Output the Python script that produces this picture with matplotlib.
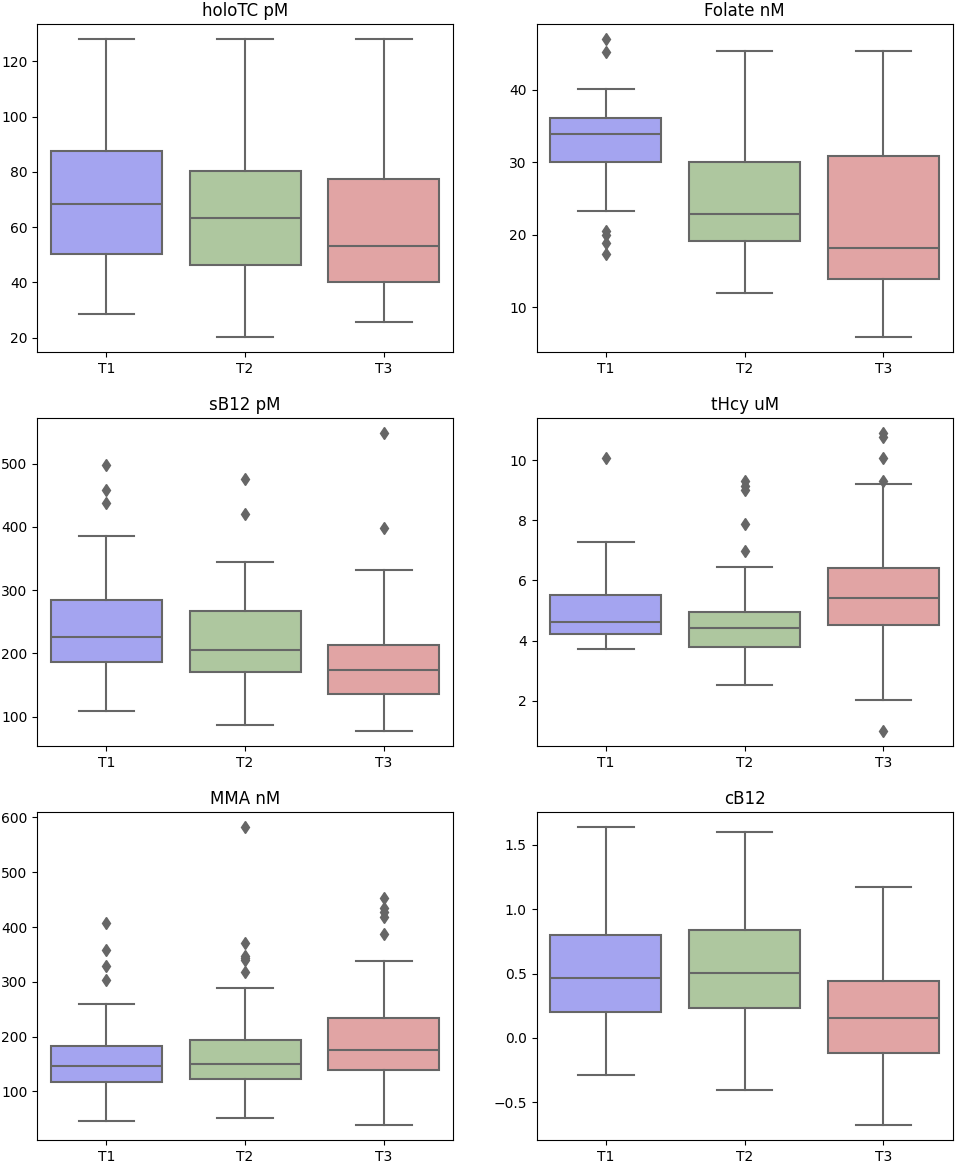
import matplotlib
matplotlib.use('Agg')
import matplotlib.pyplot as plt

# Group labels and panel titles
groups = ['T1', 'T2', 'T3']
titles = ['holoTC pM', 'Folate nM', 'sB12 pM', 'tHcy uM', 'MMA nM', 'cB12']

# Box statistics: [T1, T2, T3] per panel
holotc_whislo = [28.6, 20.2, 25.7]
holotc_q1 = [50.3, 46.4, 40.1]
holotc_med = [68.2, 63.3, 53.3]
holotc_q3 = [87.5, 80.4, 77.4]
holotc_whishi = [128.0, 128.0, 128.0]
holotc_fliers = [[], [], []]

folate_whislo = [23.3, 12.0, 5.9]
folate_q1 = [30.1, 19.1, 13.9]
folate_med = [33.9, 22.9, 18.2]
folate_q3 = [36.1, 30.0, 30.9]
folate_whishi = [40.1, 45.4, 45.4]
folate_fliers = [[47.0, 45.3, 20.5, 20.0, 18.9, 17.4], [], []]

sb12_whislo = [109.5, 86.0, 77.0]
sb12_q1 = [187.0, 170.5, 135.0]
sb12_med = [225.0, 205.0, 173.0]
sb12_q3 = [285.0, 267.0, 213.0]
sb12_whishi = [386.0, 344.6, 332.0]
sb12_fliers = [[498.0, 459.0, 438.0], [476.0, 421.0], [548.0, 398.0]]

thcy_whislo = [3.71, 2.52, 2.02]
thcy_q1 = [4.23, 3.80, 4.50]
thcy_med = [4.61, 4.43, 5.42]
thcy_q3 = [5.50, 4.94, 6.42]
thcy_whishi = [7.27, 6.43, 9.20]
thcy_fliers = [[10.08], [9.3, 9.15, 9.0, 7.89, 6.98], [10.89, 10.78, 10.08, 9.3, 0.99]]

mma_whislo = [46.0, 51.0, 38.4]
mma_q1 = [116.5, 122.0, 138.4]
mma_med = [146.0, 150.0, 175.0]
mma_q3 = [183.0, 194.0, 234.7]
mma_whishi = [260.0, 288.0, 338.0]
mma_fliers = [[406.7, 359.0, 329.0, 303.7],
              [582.0, 370.0, 348.0, 343.0, 339.0, 318.0],
              [453.7, 435.0, 427.4, 418.0, 386.6]]

cb12_whislo = [-0.284, -0.405, -0.676]
cb12_q1 = [0.200, 0.232, -0.119]
cb12_med = [0.464, 0.505, 0.157]
cb12_q3 = [0.800, 0.834, 0.444]
cb12_whishi = [1.634, 1.597, 1.174]
cb12_fliers = [[], [], []]

panels = [
    (holotc_whislo, holotc_q1, holotc_med, holotc_q3, holotc_whishi, holotc_fliers),
    (folate_whislo, folate_q1, folate_med, folate_q3, folate_whishi, folate_fliers),
    (sb12_whislo, sb12_q1, sb12_med, sb12_q3, sb12_whishi, sb12_fliers),
    (thcy_whislo, thcy_q1, thcy_med, thcy_q3, thcy_whishi, thcy_fliers),
    (mma_whislo, mma_q1, mma_med, mma_q3, mma_whishi, mma_fliers),
    (cb12_whislo, cb12_q1, cb12_med, cb12_q3, cb12_whishi, cb12_fliers),
]

box_colors = ['#a4a4f0', '#aec79f', '#e1a4a4']
line_color = '#666666'

fig, axes = plt.subplots(3, 2, figsize=(9.57, 11.64), dpi=100)
plt.subplots_adjust(left=0.0387, right=0.9955, top=0.9791, bottom=0.0206,
                    wspace=0.2007, hspace=0.203)

for ax, title, (wlo, q1, med, q3, whi, fl) in zip(axes.flat, titles, panels):
    stats = []
    for i, g in enumerate(groups):
        stats.append({'label': g, 'whislo': wlo[i], 'q1': q1[i], 'med': med[i],
                      'q3': q3[i], 'whishi': whi[i], 'fliers': fl[i]})
    bp = ax.bxp(stats, positions=range(len(groups)), widths=0.8, patch_artist=True,
                boxprops=dict(edgecolor=line_color, linewidth=1.5),
                whiskerprops=dict(color=line_color, linewidth=1.5),
                capprops=dict(color=line_color, linewidth=1.5),
                medianprops=dict(color=line_color, linewidth=1.5),
                flierprops=dict(marker='d', markersize=6.5, markerfacecolor=line_color,
                                markeredgecolor=line_color, markeredgewidth=1))
    for patch, c in zip(bp['boxes'], box_colors):
        patch.set_facecolor(c)
    for cap in bp['caps']:
        x = cap.get_xdata()
        mid = (x[0] + x[1]) / 2
        cap.set_xdata([mid - 0.2, mid + 0.2])
    ax.set_xlim(-0.5, 2.5)
    ax.set_xticks(range(len(groups)))
    ax.set_xticklabels(groups)
    ax.set_title(title, fontsize=12)
    ax.tick_params(labelsize=10)

plt.savefig('out.png', dpi=100)
